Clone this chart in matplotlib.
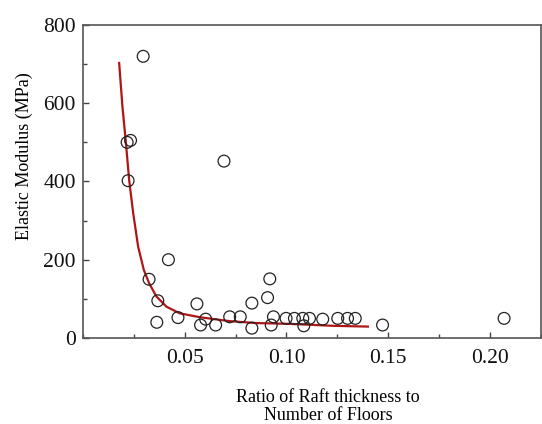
import numpy as np
from matplotlib import pyplot as plt
from matplotlib.ticker import MultipleLocator

# measured points (ratio of raft thickness to floors, elastic modulus in MPa)
ratio = [0.0296, 0.0217, 0.0234, 0.0222, 0.0693, 0.042, 0.0325, 0.0368,
         0.0363, 0.0467, 0.056, 0.0578, 0.0603, 0.0652, 0.0721, 0.0773,
         0.083, 0.083, 0.0907, 0.0918, 0.0925, 0.0936, 0.0998, 0.1039,
         0.108, 0.1085, 0.1113, 0.1178, 0.1252, 0.130, 0.1338, 0.1472, 0.2069]
modulus = [720, 500, 505, 402, 452, 200, 150, 95,
           40, 52, 87, 33, 48, 33, 54, 54,
           89, 25, 103, 151, 33, 54, 50, 50,
           50, 31, 50, 48, 50, 50, 50, 33, 50]

# fitted trend line
fit_ratio = [0.0178, 0.0194, 0.0211, 0.0227, 0.0247, 0.0271, 0.0299, 0.0325,
             0.0361, 0.041, 0.0475, 0.0574, 0.072, 0.0851, 0.1015, 0.1227, 0.14]
fit_modulus = [703, 592, 500, 404, 319, 234, 174, 140,
               106, 80, 63, 53, 43, 38, 36, 31, 29]

plt.rcParams['font.family'] = ['Liberation Serif', 'DejaVu Serif']

fig = plt.figure(figsize=(5.42, 4.24), dpi=100)
ax = fig.add_axes([0.153, 0.203, 0.845, 0.738])

ax.plot(fit_ratio, fit_modulus, color='#b01515', lw=1.6, zorder=2)
ax.scatter(ratio, modulus, s=72, facecolors='none', edgecolors='#222222',
           linewidths=0.9, zorder=3)

ax.set_xlim(0, 0.225)
ax.set_ylim(0, 800)
ax.xaxis.set_major_locator(MultipleLocator(0.05))
ax.xaxis.set_minor_locator(MultipleLocator(0.025))
ax.yaxis.set_major_locator(MultipleLocator(200))
ax.yaxis.set_minor_locator(MultipleLocator(100))
ax.set_xticks([0.05, 0.10, 0.15, 0.20])
ax.set_xticklabels(['0.05', '0.10', '0.15', '0.20'])

ax.tick_params(which='both', direction='in', colors='#444444',
               labelcolor='#111111', labelsize=15.5, width=1.0)
ax.tick_params(which='major', length=4.5)
ax.tick_params(which='minor', length=3)
ax.tick_params(axis='x', pad=8)
ax.tick_params(axis='y', pad=5)

for s in ax.spines.values():
    s.set_color('#555555')
    s.set_linewidth(1.2)

ax.set_xlabel('Ratio of Raft thickness to\nNumber of Floors', fontsize=13,
              linespacing=1.05)
ax.xaxis.set_label_coords(0.535, -0.163)
ax.set_ylabel('Elastic Modulus (MPa)', fontsize=13)
ax.yaxis.set_label_coords(-0.11, 0.58)

fig.savefig('out.png', dpi=100)
